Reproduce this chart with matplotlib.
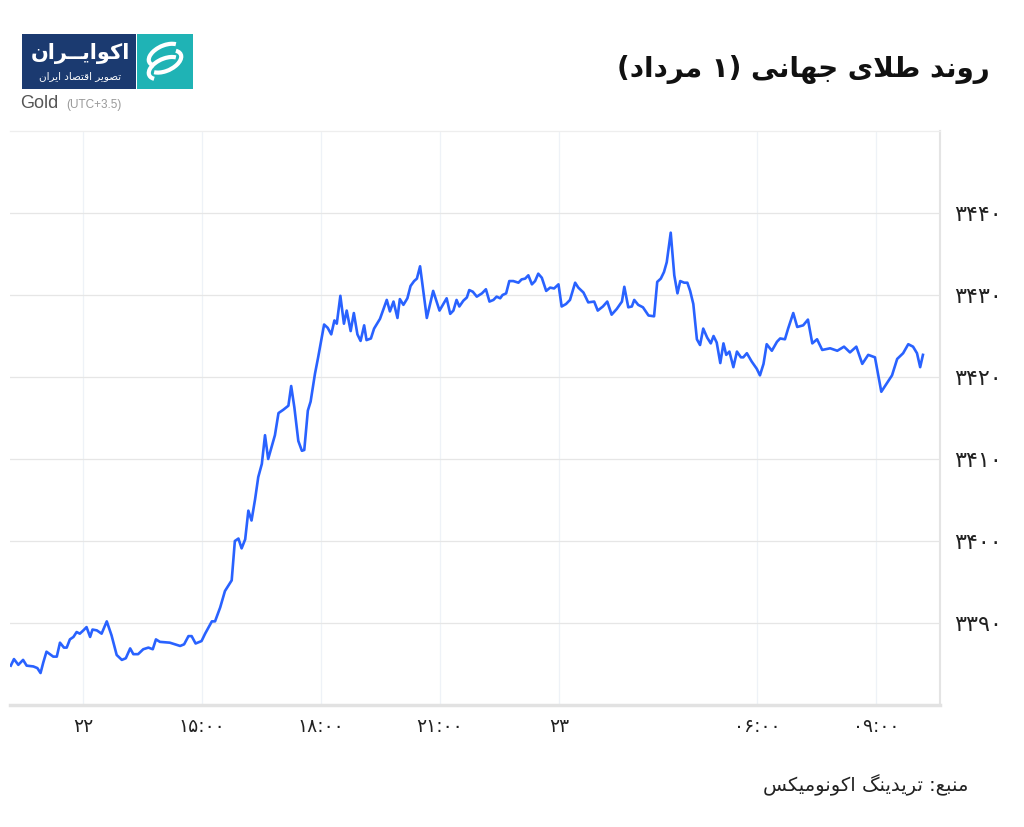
import re
import matplotlib
matplotlib.use('Agg')
import matplotlib.pyplot as plt
from matplotlib.patches import Rectangle, Arc

# gold price, times in trading hours (the 1h daily break is removed)
times = [10.18, 10.26, 10.37, 10.49, 10.58, 10.75, 10.85, 10.93, 11.00, 11.08,
         11.25, 11.34, 11.42, 11.52, 11.59, 11.67, 11.76, 11.84, 11.92, 12.01,
         12.09, 12.18, 12.24, 12.35, 12.47, 12.60, 12.72, 12.85, 12.98, 13.08,
         13.19, 13.27, 13.39, 13.52, 13.65, 13.76, 13.84, 13.94, 14.19, 14.32,
         14.45, 14.55, 14.66, 14.74, 14.84, 14.99, 15.08, 15.25, 15.33, 15.46,
         15.58, 15.75, 15.83, 15.92, 16.00, 16.09, 16.17, 16.25, 16.34, 16.42,
         16.51, 16.59, 16.67, 16.84, 16.93, 17.05, 17.18, 17.25, 17.33, 17.43,
         17.52, 17.58, 17.67, 17.74, 17.85, 17.93, 18.08, 18.17, 18.26, 18.34,
         18.40, 18.49, 18.58, 18.65, 18.75, 18.83, 18.92, 19.00, 19.09, 19.15,
         19.26, 19.34, 19.49, 19.66, 19.74, 19.83, 19.93, 19.99, 20.08, 20.18,
         20.26, 20.35, 20.42, 20.50, 20.67, 20.83, 20.99, 21.17, 21.26, 21.34,
         21.42, 21.49, 21.59, 21.68, 21.74, 21.83, 21.93, 22.06, 22.16, 22.25,
         22.35, 22.43, 22.52, 22.58, 22.67, 22.75, 22.85, 22.98, 23.06, 23.15,
         23.23, 23.32, 23.40, 23.48, 23.57, 23.68, 23.78, 23.88, 23.99, 24.07,
         24.18, 24.28, 24.41, 24.49, 24.62, 24.74, 24.89, 24.98, 25.11, 25.22,
         25.33, 25.46, 25.59, 25.65, 25.75, 25.84, 25.90, 26.00, 26.12, 26.26,
         26.40, 26.48, 26.57, 26.65, 26.72, 26.82, 26.91, 26.99, 27.06, 27.16,
         27.24, 27.31, 27.39, 27.48, 27.56, 27.64, 27.74, 27.83, 27.90, 27.98,
         28.07, 28.15, 28.22, 28.30, 28.40, 28.49, 28.59, 28.65, 28.74, 28.86,
         28.99, 29.07, 29.16, 29.24, 29.37, 29.50, 29.58, 29.70, 29.78, 29.91,
         30.01, 30.16, 30.28, 30.39, 30.51, 30.64, 30.84, 31.02, 31.19, 31.34,
         31.50, 31.65, 31.80, 31.97, 32.13, 32.28, 32.40, 32.53, 32.68, 32.81,
         32.93, 33.03, 33.11, 33.18]
prices = [3384.8, 3385.6, 3384.9, 3385.5, 3384.8, 3384.7, 3384.5, 3383.9, 3385.2, 3386.5,
          3385.9, 3385.9, 3387.6, 3387.0, 3387.0, 3388.0, 3388.3, 3388.9, 3388.7, 3389.1,
          3389.5, 3388.3, 3389.2, 3389.1, 3388.7, 3390.2, 3388.5, 3386.1, 3385.5, 3385.7,
          3386.9, 3386.2, 3386.2, 3386.8, 3387.0, 3386.8, 3388.0, 3387.7, 3387.6, 3387.4,
          3387.2, 3387.4, 3388.4, 3388.4, 3387.5, 3387.8, 3388.7, 3390.2, 3390.2, 3391.9,
          3393.9, 3395.2, 3400.0, 3400.3, 3399.1, 3400.2, 3403.7, 3402.5, 3405.1, 3407.8,
          3409.4, 3412.9, 3410.0, 3412.9, 3415.6, 3416.0, 3416.5, 3418.9, 3416.3, 3412.2,
          3411.0, 3411.1, 3415.9, 3417.0, 3420.4, 3422.4, 3426.4, 3426.0, 3425.2, 3426.9,
          3426.5, 3429.9, 3426.5, 3428.1, 3425.6, 3427.8, 3425.2, 3424.4, 3426.3, 3424.5,
          3424.7, 3425.9, 3427.1, 3429.4, 3428.0, 3429.2, 3427.2, 3429.5, 3428.8, 3429.6,
          3431.1, 3431.7, 3432.0, 3433.5, 3427.2, 3430.5, 3428.1, 3429.6, 3427.7, 3428.1,
          3429.4, 3428.6, 3429.3, 3429.7, 3430.6, 3430.4, 3429.8, 3430.2, 3430.7, 3429.2,
          3429.4, 3429.8, 3429.6, 3430.0, 3430.2, 3431.7, 3431.7, 3431.5, 3431.9, 3432.0,
          3432.4, 3431.3, 3431.7, 3432.6, 3432.1, 3430.5, 3430.9, 3430.8, 3431.3, 3428.6,
          3428.9, 3429.4, 3431.5, 3430.9, 3430.3, 3429.1, 3429.2, 3428.1, 3428.6, 3429.2,
          3427.6, 3428.3, 3429.2, 3431.0, 3428.5, 3428.6, 3429.4, 3428.8, 3428.5, 3427.5,
          3427.4, 3431.6, 3432.0, 3432.8, 3434.0, 3437.6, 3432.4, 3430.2, 3431.7, 3431.5,
          3431.5, 3430.5, 3428.9, 3424.6, 3423.9, 3425.9, 3424.8, 3424.1, 3425.0, 3424.2,
          3421.7, 3424.1, 3422.7, 3423.1, 3421.2, 3423.1, 3422.4, 3422.4, 3422.9, 3421.9,
          3421.0, 3420.2, 3421.6, 3424.0, 3423.2, 3424.3, 3424.7, 3424.6, 3425.9, 3427.8,
          3426.1, 3426.3, 3427.0, 3424.1, 3424.6, 3423.3, 3423.5, 3423.2, 3423.7, 3423.0,
          3423.7, 3421.6, 3422.7, 3422.4, 3418.2, 3419.3, 3420.2, 3422.2, 3422.9, 3424.0,
          3423.7, 3422.9, 3421.2, 3422.7]

tick_hours = [12, 15, 18, 21, 24, 29, 32]
tick_labels = ['۲۲', '۱۵:۰۰', '۱۸:۰۰', '۲۱:۰۰', '۲۳', '۰۶:۰۰', '۰۹:۰۰']
price_ticks = [3390, 3400, 3410, 3420, 3430, 3440]
price_labels = ['۳۳۹۰', '۳۴۰۰', '۳۴۱۰', '۳۴۲۰', '۳۴۳۰', '۳۴۴۰']

title = 'روند طلای جهانی (۱ مرداد)'
source = 'منبع: تریدینگ اکونومیکس'
logo_name = 'اکوایــران'
logo_sub = 'تصویر اقتصاد ایران'

# matplotlib has no arabic shaping, so pick presentation forms by hand
# (isolated, final, initial, medial)
FORMS = {
    'ا': ('\uFE8D', '\uFE8E', None, None),
    'ب': ('\uFE8F', '\uFE90', '\uFE91', '\uFE92'),
    'ت': ('\uFE95', '\uFE96', '\uFE97', '\uFE98'),
    'ج': ('\uFE9D', '\uFE9E', '\uFE9F', '\uFEA0'),
    'د': ('\uFEA9', '\uFEAA', None, None),
    'ر': ('\uFEAD', '\uFEAE', None, None),
    'س': ('\uFEB1', '\uFEB2', '\uFEB3', '\uFEB4'),
    'ص': ('\uFEB9', '\uFEBA', '\uFEBB', '\uFEBC'),
    'ط': ('\uFEC1', '\uFEC2', '\uFEC3', '\uFEC4'),
    'ع': ('\uFEC9', '\uFECA', '\uFECB', '\uFECC'),
    'ق': ('\uFED5', '\uFED6', '\uFED7', '\uFED8'),
    'ل': ('\uFEDD', '\uFEDE', '\uFEDF', '\uFEE0'),
    'م': ('\uFEE1', '\uFEE2', '\uFEE3', '\uFEE4'),
    'ن': ('\uFEE5', '\uFEE6', '\uFEE7', '\uFEE8'),
    'ه': ('\uFEE9', '\uFEEA', '\uFEEB', '\uFEEC'),
    'و': ('\uFEED', '\uFEEE', None, None),
    'ی': ('\uFBFC', '\uFBFD', '\uFBFE', '\uFBFF'),
    'ک': ('\uFB8E', '\uFB8F', '\uFB90', '\uFB91'),
    'گ': ('\uFB92', '\uFB93', '\uFB94', '\uFB95'),
    'ـ': ('ـ', 'ـ', 'ـ', 'ـ'),
}
MIRROR = {'(': ')', ')': '('}


def shape(text):
    seq = []
    i = 0
    while i < len(text):
        if text[i] == 'ل' and text[i + 1:i + 2] == 'ا':
            seq.append('LA')
            i += 2
        else:
            seq.append(text[i])
            i += 1

    def letter(c):
        return c == 'LA' or c in FORMS

    def joins_next(c):
        return c in FORMS and FORMS[c][2] is not None

    out = []
    for k, c in enumerate(seq):
        prev = seq[k - 1] if k > 0 else None
        nxt = seq[k + 1] if k + 1 < len(seq) else None
        p = prev is not None and joins_next(prev)
        if c == 'LA':
            out.append('\uFEFC' if p else '\uFEFB')
            continue
        if c not in FORMS:
            out.append(c)
            continue
        n = nxt is not None and letter(nxt) and joins_next(c)
        iso, fin, ini, med = FORMS[c]
        out.append(med if p and n else fin if p else ini if n else iso)
    # visual order: reverse, but keep digit runs left to right
    tokens = re.findall(r'[۰-۹0-9.]+|.', ''.join(out))
    return ''.join(MIRROR.get(t, t) for t in reversed(tokens))


W, H = 1024, 827
fig = plt.figure(figsize=(W / 100, H / 100), dpi=100)
fig.patch.set_facecolor('white')

ax = fig.add_axes([10 / W, 1 - 705 / H, 930 / W, 574 / H])
ax.plot(times, prices, color='#2962ff', lw=1.9, solid_joinstyle='round')
ax.set_xlim(10.16, 33.61)
ax.set_ylim(3380, 3450)

ax.set_xticks(tick_hours)
ax.set_xticklabels(tick_labels)
ax.set_yticks(price_ticks)
ax.set_yticklabels(price_labels)
ax.yaxis.tick_right()
ax.tick_params(axis='both', length=0, colors='#222222')
ax.tick_params(axis='y', pad=10, labelsize=16)
ax.tick_params(axis='x', pad=9, labelsize=13.5)
for lab in ax.get_xticklabels() + ax.get_yticklabels():
    lab.set_family('DejaVu Sans')

ax.grid(axis='y', color='#e6e6e6', lw=0.9)
ax.grid(axis='x', color='#eef2f7', lw=0.9)
ax.set_axisbelow(True)
ax.spines['left'].set_visible(False)
ax.spines['top'].set_color('#eeeeee')
ax.spines['top'].set_linewidth(0.9)
ax.spines['right'].set_color('#e4e4e4')
ax.spines['right'].set_linewidth(1.5)
ax.spines['bottom'].set_color('#e2e2e2')
ax.spines['bottom'].set_linewidth(2.5)

# header
fig.text(990 / W, 1 - 70 / H, shape(title), ha='right', va='center',
         fontsize=20, fontweight='bold', family='DejaVu Sans', color='#111111')
fig.text(20 / W, 1 - 104 / H, 'Gold', ha='left', va='center',
         fontsize=13, family='Liberation Sans', color='#555555')
fig.text(66 / W, 1 - 105 / H, '(UTC+3.5)', ha='left', va='center',
         fontsize=8.5, family='Liberation Sans', color='#999999')

# logo
fig.add_artist(Rectangle((22 / W, 1 - 89 / H), 114 / W, 55 / H,
                         transform=fig.transFigure, color='#1b3a70', lw=0))
fig.text(80 / W, 1 - 54 / H, shape(logo_name), ha='center', va='center',
         fontsize=15, fontweight='bold', family='DejaVu Sans', color='white')
fig.text(80 / W, 1 - 76 / H, shape(logo_sub), ha='center', va='center',
         fontsize=7.5, family='DejaVu Sans', color='white')
icon = fig.add_axes([137 / W, 1 - 89 / H, 56 / W, 55 / H])
icon.set_facecolor('#1fb3b5')
icon.set_xlim(0, 1)
icon.set_ylim(0, 1)
icon.set_xticks([])
icon.set_yticks([])
for s in icon.spines.values():
    s.set_visible(False)
for cy, t1, t2 in [(0.62, 20, 200), (0.50, 200, 20), (0.38, 20, 200)]:
    icon.add_patch(Arc((0.5, cy), 0.62, 0.34, angle=25, theta1=t1, theta2=t2,
                       color='white', lw=3))

# source
fig.text(968 / W, 1 - 785 / H, shape(source), ha='right', va='center',
         fontsize=14, family='DejaVu Sans', color='#222222')

fig.savefig('out.png', dpi=100, facecolor='white')
